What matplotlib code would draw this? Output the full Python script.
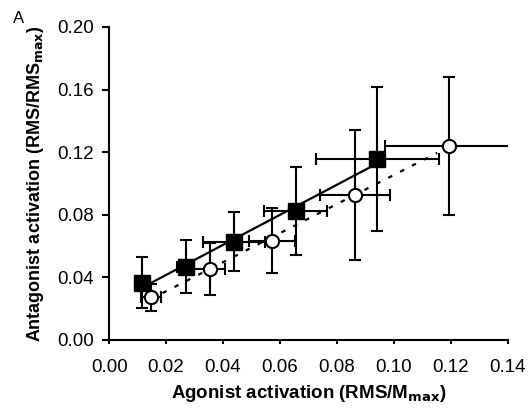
import numpy as np
import matplotlib
matplotlib.use("Agg")
import matplotlib.pyplot as plt

plt.rcParams["font.family"] = ["Liberation Sans", "DejaVu Sans"]

# filled squares
sq_x = [0.0117, 0.0269, 0.0439, 0.0655, 0.0942]
sq_y = [0.0366, 0.0468, 0.0628, 0.0824, 0.1155]
sq_xerr = [0.002, 0.003, 0.011, 0.011, 0.0216]
sq_yerr = [0.0163, 0.0168, 0.019, 0.028, 0.046]

# open circles
ci_x = [0.0146, 0.0353, 0.0572, 0.0862, 0.1192]
ci_y = [0.0273, 0.0452, 0.0635, 0.0927, 0.1240]
ci_xerr = [0.0035, 0.0055, 0.008, 0.0123, 0.0223]
ci_yerr = [0.0086, 0.0164, 0.021, 0.0415, 0.044]

x_ticks = [0.00, 0.02, 0.04, 0.06, 0.08, 0.10, 0.12, 0.14]
y_ticks = [0.00, 0.04, 0.08, 0.12, 0.16, 0.20]

fig = plt.figure(figsize=(5.3, 4.08), dpi=100)
ax = fig.add_axes([0.206, 0.167, 0.752, 0.767])

# regression lines
p_sq = np.polyfit(sq_x, sq_y, 1)
xs = np.array([min(sq_x), max(sq_x)])
ax.plot(xs, np.polyval(p_sq, xs), color="black", lw=1.6, zorder=2)

p_ci = np.polyfit(ci_x, ci_y, 1)
xc = np.array([min(ci_x), max(ci_x) - 0.004])
ax.plot(xc, np.polyval(p_ci, xc), color="black", lw=1.6, ls=(0, (2, 4)), zorder=2)

ax.errorbar(ci_x, ci_y, xerr=ci_xerr, yerr=ci_yerr, fmt="o", ms=9.5,
            mfc="white", mec="black", mew=1.5, ecolor="black", elinewidth=1.5,
            capsize=4.5, capthick=1.5, zorder=3)
ax.errorbar(sq_x, sq_y, xerr=sq_xerr, yerr=sq_yerr, fmt="s", ms=11.5,
            mfc="black", mec="black", ecolor="black", elinewidth=1.5,
            capsize=4.5, capthick=1.5, zorder=4)

ax.set_xlim(0, 0.14)
ax.set_ylim(0, 0.20)
ax.set_xticks(x_ticks)
ax.set_yticks(y_ticks)
ax.set_xticklabels([f"{v:.2f}" for v in x_ticks])
ax.set_yticklabels([f"{v:.2f}" for v in y_ticks])
ax.spines["top"].set_visible(False)
ax.spines["right"].set_visible(False)
ax.spines["left"].set_linewidth(1.5)
ax.spines["bottom"].set_linewidth(1.5)
ax.tick_params(axis="x", direction="out", length=3, width=1.5, labelsize=13.5, pad=11)
ax.tick_params(axis="y", direction="out", length=5, width=1.5, labelsize=13.5, pad=6)

ax.set_xlabel("Agonist activation (RMS/M$_{\\mathbf{max}}$)", fontsize=13.5,
              fontweight="bold", labelpad=5)
ax.set_ylabel("Antagonist activation (RMS/RMS$_{\\mathbf{max}}$)", fontsize=13,
              fontweight="bold", labelpad=8)
fig.text(0.024, 0.972, "A", fontsize=12, va="top", ha="left")

fig.savefig("out.png", dpi=100)
